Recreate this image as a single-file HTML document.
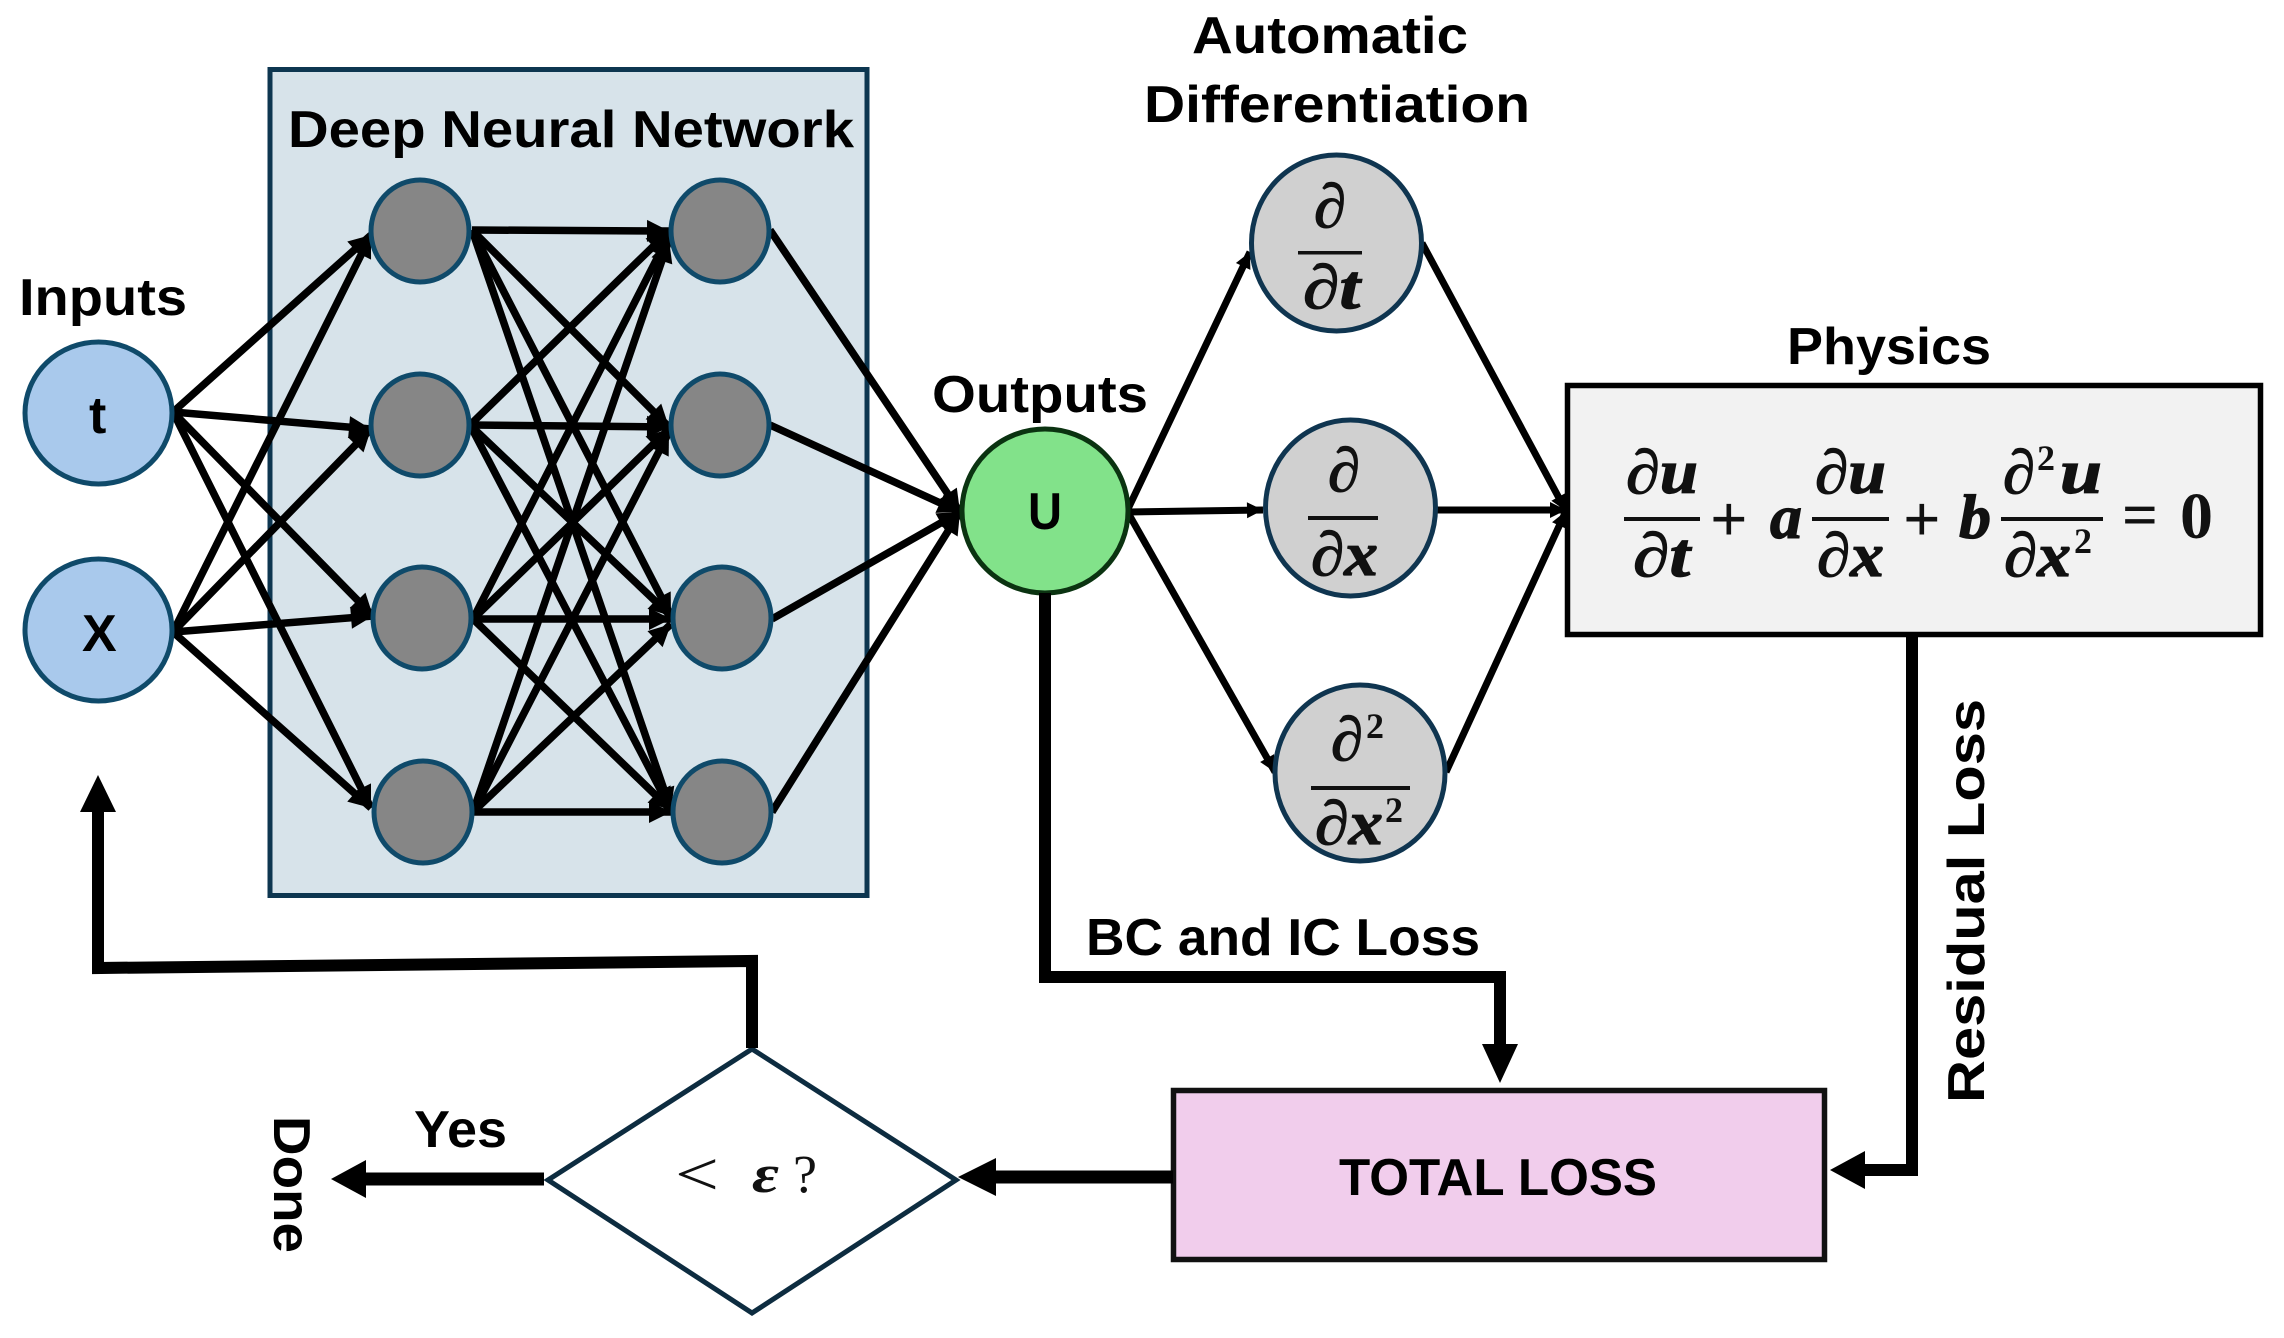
<!DOCTYPE html>
<html><head><meta charset="utf-8"><style>html,body{margin:0;padding:0;background:#fff}svg{display:block}
.s{font-family:"Liberation Sans",sans-serif;font-weight:700;fill:#000;font-size:52px}
.m{font-family:"Liberation Serif","DejaVu Serif",serif;font-weight:700;font-style:italic;fill:#111;stroke:#111;stroke-width:1.2px;font-size:62px}
.r{font-family:"Liberation Serif","DejaVu Serif",serif;fill:#111;font-size:62px;font-weight:700}
.p{font-family:"Liberation Serif","DejaVu Serif",serif;fill:#111;font-size:36px;font-weight:700}
</style></head><body>
<svg width="2284" height="1338" viewBox="0 0 2284 1338" xmlns="http://www.w3.org/2000/svg">
<defs>
<marker id="h" markerUnits="userSpaceOnUse" markerWidth="30" markerHeight="30" refX="24" refY="12" orient="auto"><path d="M2,1 L24,12 L2,23 Z" fill="#000"/></marker>
<marker id="h2" markerUnits="userSpaceOnUse" markerWidth="24" markerHeight="24" refX="18" refY="9" orient="auto"><path d="M2,1 L18,9 L2,17 Z" fill="#000"/></marker>
</defs>
<rect width="2284" height="1338" fill="#fff"/>
<rect x="270" y="69.500" width="597" height="826" fill="#d7e3ea" stroke="#0d3650" stroke-width="5"/>

<g stroke="#000" stroke-width="7.500" fill="none" marker-end="url(#h)">
<line x1="173" y1="412" x2="371" y2="235"/><line x1="173" y1="412" x2="371" y2="429"/><line x1="173" y1="412" x2="373" y2="616"/><line x1="173" y1="412" x2="371" y2="808"/>
<line x1="173" y1="632" x2="371" y2="235"/><line x1="173" y1="632" x2="371" y2="429"/><line x1="173" y1="632" x2="373" y2="616"/><line x1="173" y1="632" x2="371" y2="808"/>
<line x1="472" y1="230" x2="669" y2="231"/><line x1="472" y1="230" x2="669" y2="427"/><line x1="472" y1="230" x2="671" y2="616"/><line x1="472" y1="230" x2="671" y2="810"/>
<line x1="470" y1="425" x2="669" y2="231"/><line x1="470" y1="425" x2="669" y2="427"/><line x1="470" y1="425" x2="671" y2="616"/><line x1="470" y1="425" x2="671" y2="810"/>
<line x1="473" y1="619" x2="669" y2="235"/><line x1="473" y1="619" x2="669" y2="429"/><line x1="473" y1="619" x2="671" y2="619"/><line x1="473" y1="619" x2="671" y2="810"/>
<line x1="473" y1="812" x2="669" y2="240"/><line x1="473" y1="812" x2="669" y2="432"/><line x1="473" y1="812" x2="671" y2="624"/><line x1="473" y1="812" x2="671" y2="812"/>
<line x1="770" y1="230" x2="960" y2="512"/><line x1="770" y1="425" x2="960" y2="512"/><line x1="772" y1="619" x2="960" y2="512"/><line x1="772" y1="812" x2="960" y2="512"/>
</g>
<g stroke="#000" stroke-width="7" fill="none">
<line x1="1127" y1="511" x2="1250" y2="252" marker-end="url(#h2)"/>
<line x1="1127" y1="512" x2="1263" y2="510" marker-end="url(#h2)"/>
<line x1="1127" y1="511" x2="1275" y2="772" marker-end="url(#h2)"/>
<line x1="1422" y1="243" x2="1566" y2="511" marker-end="url(#h2)"/>
<line x1="1437" y1="510" x2="1566" y2="510" marker-end="url(#h2)"/>
<line x1="1446" y1="772" x2="1566" y2="511" marker-end="url(#h2)"/>
</g>

<g stroke="#0f4a6a" stroke-width="5" fill="#868686">
<ellipse cx="420" cy="231" rx="49" ry="51"/><ellipse cx="420" cy="425" rx="49" ry="51"/><ellipse cx="422" cy="618" rx="49" ry="51"/><ellipse cx="423" cy="812" rx="49" ry="51"/>
<ellipse cx="720" cy="231" rx="49" ry="51"/><ellipse cx="720" cy="425" rx="49" ry="51"/><ellipse cx="722" cy="618" rx="49" ry="51"/><ellipse cx="722" cy="812" rx="49" ry="51"/>
</g>
<g stroke="#0f4a6a" stroke-width="5" fill="#a9c9ec"><ellipse cx="98.500" cy="413" rx="73.500" ry="71"/><ellipse cx="98.500" cy="630" rx="73.500" ry="71"/></g>
<ellipse cx="1045" cy="511" rx="83" ry="82" fill="#82e28a" stroke="#0b3311" stroke-width="5"/>
<g stroke="#0f3550" stroke-width="5" fill="#d0d0d0"><ellipse cx="1336.500" cy="243" rx="85" ry="88"/><ellipse cx="1350.500" cy="508" rx="85" ry="88"/><ellipse cx="1360" cy="773" rx="85" ry="88"/></g>

<rect x="1567.500" y="385.500" width="693" height="249" fill="#f2f2f2" stroke="#000" stroke-width="5.500"/>
<rect x="1173.500" y="1090.500" width="651" height="169" fill="#f1cdec" stroke="#111" stroke-width="5.500"/>
<polygon points="548,1180 752,1049 956,1180 752,1313" fill="#fff" stroke="#0d2c40" stroke-width="5"/>

<!-- thick connectors -->
<g fill="none" stroke="#000" stroke-linejoin="miter">
<polyline points="752,1048 752,961 98,968 98,810" stroke-width="12"/>
<polyline points="1045,593 1045,977 1500,977 1500,1045" stroke-width="12"/>
<polyline points="1912,636 1912,1170 1860,1170" stroke-width="12"/>
<line x1="1173" y1="1177" x2="996" y2="1177" stroke-width="13"/>
<line x1="544" y1="1179" x2="366" y2="1179" stroke-width="13"/>
</g>
<g fill="#000">
<polygon points="98,775 80,812 116,812"/>
<polygon points="1500,1083 1482,1044 1518,1044"/>
<polygon points="1830,1170 1865,1151 1865,1189"/>
<polygon points="958,1177 996,1158 996,1196"/>
<polygon points="331,1179 366,1160 366,1198"/>
</g>

<text class="s" x="288" y="147" textLength="566" lengthAdjust="spacingAndGlyphs">Deep Neural Network</text>
<text class="s" x="19" y="315" textLength="168" lengthAdjust="spacingAndGlyphs">Inputs</text>
<text class="s" x="932" y="412" textLength="216" lengthAdjust="spacingAndGlyphs">Outputs</text>
<text class="s" x="1192" y="53" textLength="276" lengthAdjust="spacingAndGlyphs">Automatic</text>
<text class="s" x="1144" y="122" textLength="386" lengthAdjust="spacingAndGlyphs">Differentiation</text>
<text class="s" x="1787" y="364" textLength="204" lengthAdjust="spacingAndGlyphs">Physics</text>
<text class="s" x="89" y="433">t</text>
<text class="s" x="82" y="651">X</text>
<text class="s" x="1028" y="529" textLength="34" lengthAdjust="spacingAndGlyphs">U</text>
<text class="s" x="1086" y="955" textLength="394" lengthAdjust="spacingAndGlyphs">BC and IC Loss</text>
<text class="s" x="1339" y="1195" textLength="318" lengthAdjust="spacingAndGlyphs">TOTAL LOSS</text>
<text class="s" x="414" y="1147" textLength="93" lengthAdjust="spacingAndGlyphs">Yes</text>
<text class="s" transform="translate(274,1116) rotate(90)" textLength="137" lengthAdjust="spacingAndGlyphs">Done</text>
<text class="s" transform="translate(1984,1103) rotate(-90)" textLength="404" lengthAdjust="spacingAndGlyphs">Residual Loss</text>

<g fill="#111">
<rect x="1298" y="251" width="64" height="3.500"/><rect x="1308" y="516" width="70" height="4"/><rect x="1311" y="786" width="99" height="4"/>
<rect x="1624" y="517" width="76" height="4"/><rect x="1812" y="517" width="77" height="4"/><rect x="2001" y="517" width="102" height="4"/>
</g>
<text class="m" x="1314" y="227" textLength="32" lengthAdjust="spacingAndGlyphs">∂</text>
<text class="m" x="1303" y="308" textLength="57" lengthAdjust="spacingAndGlyphs">∂t</text>
<text class="m" x="1328" y="491" textLength="32" lengthAdjust="spacingAndGlyphs">∂</text>
<text class="m" x="1311" y="575" textLength="67" lengthAdjust="spacingAndGlyphs">∂x</text>
<text class="m" x="1331" y="760" textLength="32" lengthAdjust="spacingAndGlyphs">∂</text>
<text class="p" x="1366" y="738">2</text>
<text class="m" x="1315" y="844" textLength="68" lengthAdjust="spacingAndGlyphs">∂x</text>
<text class="p" x="1385" y="822">2</text>

<text class="m" x="1626" y="493" textLength="72" lengthAdjust="spacingAndGlyphs">∂u</text>
<text class="m" x="1633" y="576" textLength="57" lengthAdjust="spacingAndGlyphs">∂t</text>
<text class="r" x="1710" y="541" style="font-size:66px">+</text>
<text class="m" x="1770" y="538" textLength="32" lengthAdjust="spacingAndGlyphs">a</text>
<text class="m" x="1815" y="493" textLength="71" lengthAdjust="spacingAndGlyphs">∂u</text>
<text class="m" x="1817" y="576" textLength="67" lengthAdjust="spacingAndGlyphs">∂x</text>
<text class="r" x="1903" y="541" style="font-size:66px">+</text>
<text class="m" x="1959" y="538" textLength="32" lengthAdjust="spacingAndGlyphs">b</text>
<text class="m" x="2003" y="493" textLength="32" lengthAdjust="spacingAndGlyphs">∂</text>
<text class="p" x="2037" y="470">2</text>
<text class="m" x="2060" y="493" textLength="42" lengthAdjust="spacingAndGlyphs">u</text>
<text class="m" x="2004" y="576" textLength="67" lengthAdjust="spacingAndGlyphs">∂x</text>
<text class="p" x="2074" y="553">2</text>
<text class="r" x="2122" y="536" textLength="36" lengthAdjust="spacingAndGlyphs">=</text>
<text class="r" x="2180" y="538" textLength="33" lengthAdjust="spacingAndGlyphs" style="font-size:66px">0</text>

<text class="r" x="675" y="1195" textLength="44" lengthAdjust="spacingAndGlyphs" style="font-weight:400">&lt;</text>
<text class="m" x="752" y="1192" textLength="27" lengthAdjust="spacingAndGlyphs" style="font-size:54px;stroke-width:0">ε</text>
<text class="r" x="793" y="1192" textLength="24" lengthAdjust="spacingAndGlyphs" style="font-size:54px;font-weight:400">?</text>
</svg>
</body></html>
